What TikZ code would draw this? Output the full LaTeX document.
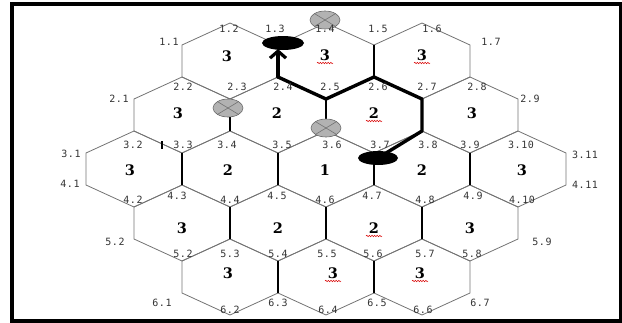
\documentclass[tikz,border=0pt]{standalone}
\usepackage{fontspec}
\newfontfamily\hexfont{DejaVu Serif}
\newfontfamily\vfont[LetterSpace=6]{DejaVu Sans Mono}
\usetikzlibrary{arrows.meta,decorations.pathmorphing,shapes.geometric}
\tikzset{
  hexedge/.style={draw=black!55, line width=0.8pt},
  thickedge/.style={draw=black, line width=2.6pt},
  pathedge/.style={draw=black, line width=3.4pt, line cap=round, line join=round},
  vlab/.style={font=\vfont\fontsize{10}{10}\selectfont, text=black!80, inner sep=0pt},
  hlab/.style={font=\hexfont\bfseries\fontsize{14.5}{15}\selectfont, inner sep=0pt},
  wavy/.style={draw=red!85!black, line width=0.5pt, decorate, decoration={snake, amplitude=0.7pt, segment length=2.6pt}},
  greymark/.style={ellipse, draw=black!60, fill=black!30, line width=0.6pt, minimum width=30pt, minimum height=18pt, inner sep=0pt},
  blackmark/.style={ellipse, fill=black, inner sep=0pt}
}
\begin{document}
\begin{tikzpicture}[x=1pt,y=-1pt]
\useasboundingbox (0,0) rectangle (622,322);
% hexagons
\foreach \cy/\xs in {61/{230,326,422},115/{182,278,374,470},169/{134,230,326,422,518},223/{182,278,374,470},277/{230,326,422}}{
  \foreach \cx in \xs {
    \draw[hexedge] (\cx,\cy-38) -- (\cx+48,\cy-16) -- (\cx+48,\cy+16) -- (\cx,\cy+38) -- (\cx-48,\cy+16) -- (\cx-48,\cy-16) -- cycle;
  }
}
% thick vertical edges
\foreach \x/\ya/\yb in {374/45/77, 230/99/131, 326/99/131, 182/153/185, 278/153/185, 374/153/185, 470/153/185, 230/207/239, 326/207/239, 422/207/239, 278/261/293, 374/261/293}{
  \draw[thickedge] (\x,\ya) -- (\x,\yb);
}
% markers
\node[blackmark, minimum width=42pt, minimum height=14pt] (top) at (283,43) {};
\node[blackmark, minimum width=40pt, minimum height=14pt] (start) at (378,158) {};
\coordinate (p1) at (422,131);
\coordinate (p2) at (422,99);
\coordinate (p3) at (374,77);
\coordinate (p4) at (326,99);
\coordinate (p5) at (278,77);
\coordinate (tip) at (278,49);
\draw[pathedge] (start.center) -- (p1) -- (p2) -- (p3) -- (p4) -- (p5);
\draw[pathedge, -{Straight Barb[length=7pt,width=16pt,line width=3.2pt]}] (p5) -- (tip);
\foreach \n/\x/\y in {g1/325/20, g2/228/108, g3/326/128}{
  \node[greymark] (\n) at (\x,\y) {};
  \draw[black!55, line width=0.6pt] (\n.north west) -- (\n.south east) (\n.north east) -- (\n.south west);
}
% tick mark
\coordinate (tka) at (162,141);
\coordinate (tkb) at (162,149);
\draw[black, line width=1.6pt] (tka) -- (tkb);
% hex labels
\foreach \t/\x/\y/\w [count=\i] in {3/227/56/0, 3/325/55/1, 3/422/55/1,
  3/178/113/0, 2/277/113/0, 2/374/113/1, 3/472/113/0,
  3/130/170/0, 2/228/170/0, 1/325/170/0, 2/422/170/0, 3/522/170/0,
  3/182/228/0, 2/278/228/0, 2/374/228/1, 3/470/228/0,
  3/228/273/0, 3/333/273/1, 3/420/273/1}{
  \node[hlab] (h\i) at (\x,\y) {\t};
  \ifnum\w=1 \draw[wavy] (\x-8,\y+8) -- (\x+8,\y+8); \fi
}
% vertex labels
\foreach \t/\x/\y [count=\i] in {1.1/169/42, 1.2/229/29, 1.3/275/29, 1.4/325/29, 1.5/378/29, 1.6/432/29, 1.7/491/42,
  2.1/119/99, 2.2/183/87, 2.3/237/87, 2.4/283/87, 2.5/330/87, 2.6/378/87, 2.7/427/87, 2.8/477/87, 2.9/530/99,
  3.1/71/154, 3.2/133/145, 3.3/183/145, 3.4/227/145, 3.5/282/145, 3.6/332/145, 3.7/380/145, 3.8/428/145, 3.9/470/145, 3.10/521/145, 3.11/585/155,
  4.1/70/184, 4.2/133/200, 4.3/177/196, 4.4/230/200, 4.5/277/196, 4.6/325/200, 4.7/372/196, 4.8/425/200, 4.9/473/196, 4.10/522/200, 4.11/585/185,
  5.2/115/242, 5.2/183/254, 5.3/230/254, 5.4/278/254, 5.5/327/254, 5.6/373/254, 5.7/425/254, 5.8/472/254, 5.9/542/242,
  6.1/162/303, 6.2/230/310, 6.3/278/303, 6.4/328/310, 6.5/377/303, 6.6/423/310, 6.7/480/303}{
  \node[vlab] (v\i) at (\x,\y) {\t};
}
% frame
\draw[line width=4pt] (12,4) rectangle (620.5,320.5);
\end{tikzpicture}
\end{document}
